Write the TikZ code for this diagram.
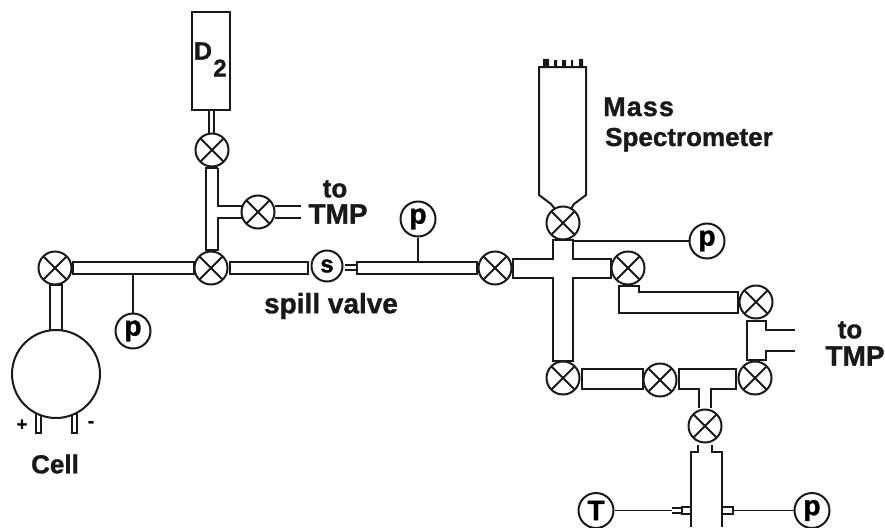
\documentclass[tikz,border=0pt]{standalone}
\usepackage{fontspec}
\setmainfont{Liberation Sans}[BoldFont={Liberation Sans Bold},BoldFeatures={FakeBold=1.2}]
\tikzset{
  pipe/.style={draw=black!90,line width=2pt,line join=miter},
  wire/.style={draw=black!90,line width=1.7pt},
  valve/.style={circle,draw=black!90,line width=2pt,fill=white,minimum size=33pt,inner sep=0pt,
    path picture={\draw[black!90,line width=2pt]
      (path picture bounding box.south west)--(path picture bounding box.north east)
      (path picture bounding box.north west)--(path picture bounding box.south east);}},
  gauge/.style={circle,draw=black!90,line width=2pt,fill=white,minimum size=35pt,inner sep=0pt,font=\bfseries\fontsize{28}{28}\selectfont},
  lbl/.style={font=\bfseries\fontsize{27}{28}\selectfont,text=black!90,inner sep=0pt}
}
\begin{document}
\begin{tikzpicture}[x=1pt,y=-1pt]
\useasboundingbox (0,0) rectangle (885,527);
% pipes first
\draw[pipe] (192,12) rectangle (230,110);
\draw[pipe] (209,110)--(209,134) (214,110)--(214,134);
\draw[pipe] (218,168)--(218,206)--(242,206) (242,218)--(218,218)--(218,250)--(206,250)--(206,168)--(218,168);
\draw[pipe] (275,206)--(301,206) (275,218)--(301,218);
\draw[pipe] (73,262) rectangle (194,274);
\draw[pipe] (230,262) rectangle (308,274);
\draw[pipe] (345,265)--(356,265) (345,270)--(356,270);
\draw[pipe] (357,262)--(477,262)--(477,274)--(357,274)--cycle;
\draw[pipe] (50,285) rectangle (62,331);
\draw[pipe] (36,414) rectangle (41,433) (72,414) rectangle (77,433);
% cell
\node[circle,draw=black!90,line width=2pt,minimum size=88pt,inner sep=0pt,fill=white] (cell) at (56,374) {};
% mass spectrometer
\draw[pipe] (555,209)--(551,204)--(539,195)--(539,67)--(586,67)--(586,195)--(574,204)--(571,209);
\fill[black!90] (543,59) rectangle (549,67) (554,60) rectangle (557,67) (562,60) rectangle (566,67) (571,60) rectangle (573,67) (579,59) rectangle (583,67);
% cross
\draw[pipe] (553,240)--(573,240)--(573,259)--(611,259)--(611,278)--(573,278)--(573,361)--(553,361)--(553,278)--(513,278)--(513,259)--(553,259)--cycle;
% right lower pipe
\draw[pipe] (619,286)--(639,286)--(639,292)--(738,292)--(738,313)--(619,313)--cycle;
% TMP piece
\draw[pipe] (795,330)--(766,330)--(766,321)--(747,321)--(747,360)--(766,360)--(766,351)--(795,351);
% lower row
\draw[pipe] (582,369) rectangle (643,389);
\draw[pipe] (699,408)--(699,389)--(679,389)--(679,369)--(736,369)--(736,389)--(711,389)--(711,408);
% bottom assembly
\draw[pipe] (698,445)--(698,452)--(691,452)--(691,527) (712,445)--(712,452)--(722,452)--(722,527);
\draw[pipe] (682,507) rectangle (691,514);
\draw[pipe] (672,508)--(682,508) (672,513)--(682,513);
\draw[pipe] (722,507) rectangle (733,514);
% valves
\node[valve] (v1) at (212,150) {};
\node[valve] (v2) at (258,212) {};
\node[valve] (v3) at (55,268) {};
\node[valve] (v4) at (211,268) {};
\node[valve] (v5) at (495,268) {};
\node[valve] (v6) at (563,223) {};
\node[valve] (v7) at (628,268) {};
\node[valve] (v8) at (756,302) {};
\node[valve] (v9) at (563,378) {};
\node[valve] (v10) at (660,380) {};
\node[valve] (v11) at (755,378) {};
\node[valve] (v12) at (705,426) {};
% gauges
\node[gauge] (p1) at (418,219) {p};
\node[gauge] (p2) at (133,331) {p};
\node[gauge] (p3) at (707,241) {p};
\node[gauge] (p4) at (812,510.5) {p};
\node[gauge] (T1) at (596,510.5) {T};
\node[gauge,minimum size=31pt,font=\bfseries\fontsize{24}{24}\selectfont] (s1) at (327,266) {s};
\coordinate (j1) at (418,262);
\coordinate (j2) at (133,274);
\coordinate (j3) at (573,241);
\coordinate (j4) at (672,510.5);
\coordinate (j5) at (733,510.5);
\draw[wire] (p1)--(j1);
\draw[wire] (p2)--(j2);
\draw[wire] (p3)--(j3);
\draw[wire] (T1)--(j4);
\draw[wire] (p4)--(j5);
% labels
\node[lbl,font=\bfseries\fontsize{25}{25}\selectfont] (d) at (203,51) {D};
\node[lbl,font=\bfseries\fontsize{24}{24}\selectfont] (d2) at (220,68) {2};
\node[lbl,font=\bfseries\fontsize{26}{26}\selectfont] (t1) at (335,189) {to};
\node[lbl,font=\bfseries\fontsize{28}{28}\selectfont] (t2) at (338,214) {TMP};
\node[lbl,anchor=base west] (m1) at (603,116) {\addfontfeature{LetterSpace=4}Mass};
\node[lbl,anchor=base west,font=\bfseries\fontsize{26}{26}\selectfont] (m2) at (605,146) {Spectrometer};
\node[lbl,font=\bfseries\fontsize{28}{28}\selectfont] (sv) at (331,306) {spill valve};
\node[lbl,font=\bfseries\fontsize{26}{26}\selectfont] (ce) at (55,464) {Cell};
\node[lbl,font=\bfseries\fontsize{26}{26}\selectfont] (t3) at (850,330) {to};
\node[lbl,font=\bfseries\fontsize{28}{28}\selectfont] (t4) at (855,356) {TMP};
\node[font=\bfseries\fontsize{18}{18}\selectfont,inner sep=0pt] (plus) at (22,425) {+};
\node[font=\bfseries\fontsize{18}{18}\selectfont,inner sep=0pt] (minus) at (91,424) {-};
\end{tikzpicture}
\end{document}
